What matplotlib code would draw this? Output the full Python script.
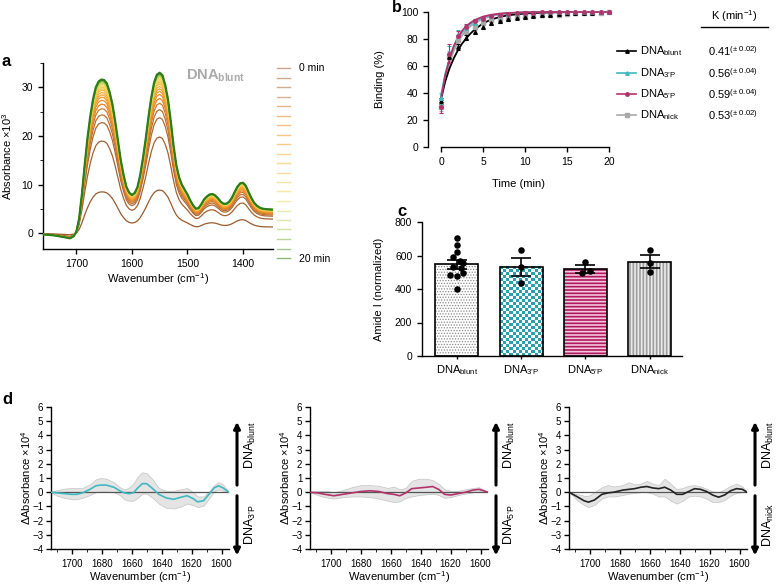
import numpy as np
import matplotlib
matplotlib.use('Agg')
import matplotlib.pyplot as plt
from matplotlib.colors import LinearSegmentedColormap, to_rgb
from matplotlib.lines import Line2D
from matplotlib.ticker import MultipleLocator

plt.rcParams['font.family'] = ['Liberation Sans', 'DejaVu Sans']
plt.rcParams['mathtext.fontset'] = 'custom'
plt.rcParams['mathtext.rm'] = 'Liberation Sans'
plt.rcParams['mathtext.it'] = 'Liberation Sans:italic'
plt.rcParams['mathtext.bf'] = 'Liberation Sans:bold'
plt.rcParams['mathtext.default'] = 'regular'
plt.rcParams['font.size'] = 7.5
plt.rcParams['axes.linewidth'] = 1.0
plt.rcParams['xtick.major.width'] = 1.0
plt.rcParams['ytick.major.width'] = 1.0
plt.rcParams['xtick.major.size'] = 3.5
plt.rcParams['ytick.major.size'] = 3.5
plt.rcParams['xtick.minor.size'] = 2
plt.rcParams['ytick.minor.size'] = 2
plt.rcParams['xtick.labelsize'] = 7.5
plt.rcParams['ytick.labelsize'] = 7.5

# ---------------- data ----------------
# panel a: spectrum at 20 min (top curve) and relative amplitude of each time point
wn_a = [1760, 1750, 1740, 1730, 1720, 1712, 1705, 1700, 1695, 1690, 1685, 1680, 1675,
        1670, 1665, 1660, 1655, 1650, 1645, 1640, 1635, 1630, 1625, 1620, 1615, 1610,
        1605, 1600, 1595, 1590, 1585, 1580, 1575, 1570, 1565, 1560, 1555, 1550, 1545,
        1540, 1535, 1530, 1525, 1520, 1515, 1510, 1505, 1500, 1495, 1490, 1485, 1480,
        1475, 1470, 1465, 1460, 1455, 1450, 1445, 1440, 1435, 1430, 1425, 1420, 1415,
        1410, 1405, 1400, 1395, 1390, 1385, 1380, 1375, 1370, 1365, 1360, 1346]
abs_top = [-0.2, -0.3, -0.4, -0.6, -0.8, -1.0, -0.6, 0.3, 3.0, 8.0, 14.0, 19.5, 24.0,
           27.5, 30.0, 31.2, 31.6, 31.5, 30.8, 29.0, 26.5, 23.0, 19.0, 15.0, 12.0, 9.6,
           8.4, 7.9, 8.3, 9.5, 12.0, 15.5, 19.5, 24.0, 28.0, 31.0, 32.6, 33.0, 32.5,
           30.5, 27.5, 23.0, 18.0, 14.0, 11.5, 10.0, 9.0, 8.0, 6.8, 5.8, 5.1, 5.2,
           6.0, 7.0, 7.6, 8.0, 8.1, 7.8, 7.2, 6.5, 6.1, 6.1, 6.5, 7.3, 8.5,
           9.6, 10.3, 10.4, 9.8, 8.5, 7.3, 6.3, 5.7, 5.3, 5.1, 5.0, 4.9]
times_a = list(range(21))
scale_a = [0.27, 0.60, 0.72, 0.77, 0.81, 0.84, 0.865, 0.885, 0.90, 0.915, 0.93,
           0.94, 0.95, 0.96, 0.97, 0.975, 0.98, 0.985, 0.99, 0.995, 1.0]

# panel b: binding kinetics
t_b = list(range(21))
bind_blunt = [34, 67, 74, 81, 85.5, 89, 91.5, 93, 94.5, 95.5, 96.5, 97, 97.5, 98, 98.5, 99, 99, 99.5, 99.5, 99.8, 100]
bind_3p = [36, 70, 83, 88, 92, 95, 97, 98, 98.5, 99, 99.5, 99.5, 99.8, 100, 100, 100, 100, 100, 100, 100, 100]
bind_5p = [30, 69, 82, 89, 93, 95, 97, 98, 98.5, 99, 99.5, 99.5, 99.8, 100, 100, 100, 100, 100, 100, 100, 100]
bind_nick = [30, 67, 79, 86, 89, 92, 94, 95, 95.5, 96, 96.5, 97, 97.5, 98, 98, 98.5, 99, 99, 99.5, 99.5, 100]
err_blunt = [2, 2, 2, 2, 2, 1.5, 1.5, 1, 1, 1, 1, 1, 1, 1, 1, 1, 1, 1, 1, 1, 1]
err_3p = [4, 5, 4, 2, 2, 1.5, 1, 1, 1, 1, 1, 1, 1, 1, 1, 1, 1, 1, 1, 1, 1]
err_5p = [5, 7, 4, 2, 2, 1.5, 1, 1, 1, 1, 1, 1, 1, 1, 1, 1, 1, 1, 1, 1, 1]
err_nick = [3, 4, 3, 2, 2, 1.5, 1, 1, 1, 1, 1, 1, 1, 1, 1, 1, 1, 1, 1, 1, 1]
t_fit = [0, 0.5, 1, 1.5, 2, 2.5, 3, 3.5, 4, 5, 6, 7, 8, 10, 12, 15, 20]
fit_blunt = [36, 48.5, 58, 65.5, 71.5, 76.5, 80.5, 84, 87, 91.6, 94.5, 96.3, 97.6, 98.9, 99.5, 99.9, 100]
fit_3p = [38, 54, 65, 74, 80, 85, 88.5, 91.2, 93.2, 96, 97.6, 98.5, 99.1, 99.7, 99.9, 100, 100]
fit_5p = [36, 53, 65, 74.5, 81, 86, 89.5, 92, 94, 96.6, 98, 98.8, 99.3, 99.8, 99.9, 100, 100]
fit_nick = [34, 50, 62, 71, 77.5, 82.5, 86.5, 89.5, 91.8, 95, 97, 98.2, 98.9, 99.6, 99.9, 100, 100]
k_vals = ['0.41', '0.56', '0.59', '0.53']
k_errs = ['0.02', '0.04', '0.04', '0.02']

# panel c: amide I
c_names = ['DNA$_{blunt}$', 'DNA$_{3\u2019P}$', 'DNA$_{5\u2019P}$', 'DNA$_{nick}$']
c_means = [548, 532, 520, 562]
c_sem = [27, 56, 23, 39]
c_pts_blunt = [704, 662, 620, 590, 570, 558, 530, 524, 484, 480, 494, 400]
c_pts_3p = [630, 534, 438]
c_pts_5p = [564, 494, 508]
c_pts_nick = [634, 558, 504]

# panel d: difference spectra (mean, band upper, band lower)
d1_wn = [1714, 1710, 1705, 1700, 1697, 1693, 1688, 1684, 1681, 1677, 1672, 1668, 1665, 1662,
         1659, 1656, 1653, 1650, 1646, 1642, 1637, 1632, 1627, 1623, 1619, 1616, 1612,
         1608, 1605, 1602, 1599, 1595]
d1_mean = [0, -0.05, -0.1, -0.15, -0.15, -0.05, 0.2, 0.45, 0.5, 0.5, 0.35, 0.1, -0.05, -0.1,
           -0.05, 0.3, 0.6, 0.6, 0.25, -0.15, -0.4, -0.5, -0.35, -0.25, -0.45, -0.68, -0.6,
           -0.1, 0.3, 0.45, 0.3, 0]
d1_up = [0, 0.15, 0.25, 0.3, 0.3, 0.3, 0.55, 0.9, 1.0, 0.95, 0.7, 0.35, 0.2, 0.3,
         0.6, 1.1, 1.4, 1.35, 0.9, 0.3, 0.1, 0.1, 0.2, 0.3, 0.0, -0.3, -0.3,
         0.1, 0.5, 0.7, 0.55, 0]
d1_lo = [0, -0.25, -0.4, -0.5, -0.5, -0.4, -0.2, 0.0, 0.05, 0.05, 0.0, -0.2, -0.5, -0.6,
         -0.6, -0.4, -0.1, -0.1, -0.4, -0.8, -1.1, -1.15, -1.0, -0.8, -0.9, -1.05, -0.95,
         -0.4, 0.05, 0.2, 0.1, 0]
d2_wn = [1714, 1709, 1704, 1698, 1692, 1686, 1680, 1674, 1668, 1662, 1658, 1654, 1650,
         1646, 1641, 1636, 1632, 1628, 1624, 1620, 1615, 1610, 1605, 1601, 1598, 1595]
d2_mean = [0, -0.05, -0.15, -0.25, -0.15, -0.05, 0.05, 0.1, 0.05, -0.1, -0.15, -0.25, -0.05,
           0.25, 0.3, 0.35, 0.4, 0.2, -0.15, -0.2, -0.1, 0.0, 0.15, 0.2, 0.1, 0]
d2_up = [0, 0.1, 0.1, 0.0, 0.15, 0.35, 0.5, 0.5, 0.45, 0.3, 0.4, 0.2, 0.3,
         0.8, 0.95, 0.95, 0.85, 0.6, 0.2, 0.1, 0.1, 0.2, 0.3, 0.35, 0.2, 0]
d2_lo = [0, -0.2, -0.35, -0.45, -0.35, -0.3, -0.3, -0.35, -0.45, -0.6, -0.7, -0.65, -0.4,
         -0.3, -0.2, -0.15, -0.1, -0.2, -0.4, -0.35, -0.2, -0.1, 0.0, 0.05, 0.0, 0]
d3_wn = [1714, 1708, 1704, 1701, 1697, 1692, 1688, 1684, 1678, 1674, 1670, 1666, 1662,
         1658, 1654, 1650, 1646, 1642, 1638, 1634, 1630, 1626, 1622, 1618, 1614, 1610,
         1606, 1602, 1598, 1595]
d3_mean = [0, -0.35, -0.6, -0.7, -0.55, -0.15, -0.05, 0.0, 0.15, 0.2, 0.25, 0.35, 0.4,
           0.3, 0.25, 0.35, 0.15, -0.15, -0.15, 0.05, 0.25, 0.2, 0.05, -0.2, -0.35, -0.2,
           0.1, 0.25, 0.2, 0]
d3_up = [0, -0.15, -0.25, -0.25, 0.0, 0.35, 0.5, 0.4, 0.5, 0.7, 0.55, 0.6, 0.8,
         0.6, 0.5, 0.95, 0.6, 0.2, 0.3, 0.45, 0.5, 0.4, 0.25, 0.05, 0.0, 0.2,
         0.45, 0.6, 0.4, 0]
d3_lo = [0, -0.6, -0.9, -1.05, -0.9, -0.45, -0.3, -0.3, -0.2, -0.1, -0.05, 0.0, 0.0,
         -0.1, -0.3, -0.3, -0.6, -0.8, -0.6, -0.3, -0.25, -0.3, -0.45, -0.7, -0.7, -0.55,
         -0.25, -0.05, 0.0, 0]

# ---------------- figure ----------------
W, H = 778, 585
fig = plt.figure(figsize=(W / 100, H / 100), dpi=100)


def box(x0, y0, x1, y1):
    return [x0 / W, 1 - y1 / H, (x1 - x0) / W, (y1 - y0) / H]


def clean(ax):
    ax.spines['top'].set_visible(False)
    ax.spines['right'].set_visible(False)


teal = '#3fb8c2'
crim = '#b2336c'
grey = '#a8a8a8'

# ----- panel a -----
axa = fig.add_axes(box(43, 63, 273, 249))
clean(axa)
cmap = LinearSegmentedColormap.from_list('t', ['#9a5b2e', '#b86f35', '#ef8a25', '#f5a835',
                                               '#f6c84a', '#e8dc60', '#a9cb58', '#2f7d18'])
top = np.array(abs_top)
for i, t in enumerate(times_a):
    col = cmap(t / 20)
    lw = 1.6 if t == 20 else 0.9
    axa.plot(wn_a, top * scale_a[i], color=col, lw=lw, zorder=2 + i)
axa.set_xlim(1760, 1346)
axa.set_ylim(-3.2, 35)
axa.set_xticks([1700, 1600, 1500, 1400])
axa.set_yticks([0, 10, 20, 30])
axa.yaxis.set_minor_locator(MultipleLocator(5))
axa.set_xlabel('Wavenumber (cm$^{-1}$)', fontsize=8)
axa.set_ylabel('Absorbance \u00d710$^{3}$', fontsize=8)
axa.xaxis.set_label_coords(0.5, -0.12)
axa.yaxis.set_label_coords(-0.125, 0.5)
axa.text(0.62, 0.93, 'DNA$_{blunt}$', transform=axa.transAxes, fontsize=10.5,
         fontweight='bold', color='#aaaaaa', ha='left', va='center')
fig.text(2 / W, 1 - 62 / H, 'a', fontsize=12, fontweight='bold', va='center')
# legend of time points
ys = np.linspace(68, 258, 21)
for i, t in enumerate(times_a):
    c = np.array(to_rgb(cmap(t / 20)))
    c = c * 0.55 + 0.45
    fig.add_artist(Line2D([277 / W, 290 / W], [1 - ys[i] / H] * 2, color=c, lw=1.0))
fig.text(299 / W, 1 - 68 / H, '0 min', fontsize=7.5, va='center')
fig.text(299 / W, 1 - 259 / H, '20 min', fontsize=7.5, va='center')

# ----- panel b -----
axb = fig.add_axes(box(428, 12, 609, 147))
clean(axb)
series_b = [(bind_nick, err_nick, fit_nick, grey, 's'),
            (bind_blunt, err_blunt, fit_blunt, 'black', '^'),
            (bind_3p, err_3p, fit_3p, teal, '^'),
            (bind_5p, err_5p, fit_5p, crim, 'o')]
for vals, err, fit, col, mk in series_b:
    axb.errorbar(t_b, vals, yerr=err, fmt=mk, ms=2.5, color=col, ecolor=col,
                 elinewidth=0.8, capsize=1.5, capthick=0.8, clip_on=False)
    axb.plot(t_fit, fit, color=col, lw=1.3, clip_on=False)
axb.set_xlim(-1.55, 20)
axb.set_ylim(0, 100)
axb.spines['bottom'].set_bounds(0, 20)
axb.set_xticks([0, 5, 10, 15, 20])
axb.set_yticks([0, 20, 40, 60, 80, 100])
axb.set_xlabel('Time (min)', fontsize=8)
axb.set_ylabel('Binding (%)', fontsize=8)
axb.xaxis.set_label_coords(0.5, -0.235)
axb.yaxis.set_label_coords(-0.24, 0.5)
fig.text(392 / W, 1 - 8 / H, 'b', fontsize=11.5, fontweight='bold', va='center')
leg_names = ['DNA$_{blunt}$', 'DNA$_{3\u2019P}$', 'DNA$_{5\u2019P}$', 'DNA$_{nick}$']
leg_cols = ['black', teal, crim, grey]
leg_mk = ['^', '^', 'o', 's']
leg_y = [51, 73, 94, 115]
for name, col, mk, y, kv, ke in zip(leg_names, leg_cols, leg_mk, leg_y, k_vals, k_errs):
    fig.add_artist(Line2D([617 / W, 636 / W], [1 - y / H] * 2, color=col, lw=1.2))
    fig.add_artist(Line2D([626.5 / W], [1 - y / H], color=col, marker=mk, ms=2.5, lw=0))
    fig.text(640 / W, 1 - y / H, name, fontsize=8, va='center')
    fig.text(708 / W, 1 - y / H, kv + '$^{(\\pm\\ ' + ke + ')}$', fontsize=8, va='center')
fig.text(734 / W, 1 - 16 / H, 'K (min$^{-1}$)', fontsize=8, va='center', ha='center')
fig.add_artist(Line2D([701 / W, 768 / W], [1 - 27 / H] * 2, color='black', lw=1.0))

# ----- panel c -----
axc = fig.add_axes(box(422, 222, 682, 356))
clean(axc)
xc = np.arange(4)
bw = 0.67
bars = axc.bar(xc, c_means, width=bw, color='none', edgecolor='none', zorder=1)
# blunt: dotted
plt.rcParams['hatch.linewidth'] = 0.6
axc.bar(xc[0], c_means[0], width=bw, color='white', edgecolor='#8a8a8a', hatch='......', lw=0, zorder=1)
# 3'P: checkerboard
b = bars[1]
chk = (np.add.outer(np.arange(30), np.arange(14)) % 2).astype(float)
axc.imshow(chk, extent=(b.get_x(), b.get_x() + b.get_width(), 0, b.get_height()),
           cmap=LinearSegmentedColormap.from_list('ck', ['white', '#2a9fae']),
           aspect='auto', interpolation='nearest', zorder=1, origin='lower')
# 5'P: horizontal stripes
plt.rcParams['hatch.linewidth'] = 1.2
axc.bar(xc[2], c_means[2], width=bw, color='#b0175f', edgecolor='#f2c8dc', hatch='-----', lw=0, zorder=1)
# nick: vertical stripes
axc.bar(xc[3], c_means[3], width=bw, color='#9d9d9d', edgecolor='#ececec', hatch='|||||', lw=0, zorder=1)
axc.bar(xc, c_means, width=bw, fill=False, edgecolor='black', lw=1.2, zorder=2)
axc.errorbar(xc, c_means, yerr=c_sem, fmt='none', ecolor='black', elinewidth=1.2,
             capsize=7, capthick=1.2, zorder=4)
pts = [c_pts_blunt, c_pts_3p, c_pts_5p, c_pts_nick]
offs = [[0, 0, 0, -0.06, 0.05, 0.1, -0.06, 0.07, -0.11, 0.0, 0.1, 0.0],
        [0, 0, 0], [0, -0.05, 0.07], [0, 0, 0]]
for i, (p, o) in enumerate(zip(pts, offs)):
    axc.scatter(np.array(o) + i, p, s=22, color='black', zorder=5, linewidths=0)
axc.set_xlim(-0.54, 3.5)
axc.set_ylim(0, 800)
axc.set_xticks(xc)
axc.set_xticklabels(c_names, fontsize=8)
axc.tick_params(axis='x', length=2)
axc.set_yticks([0, 200, 400, 600, 800])
axc.set_ylabel('Amide I (normalized)', fontsize=8)
axc.yaxis.set_label_coords(-0.146, 0.5)
fig.text(397 / W, 1 - 212 / H, 'c', fontsize=12, fontweight='bold', va='center')

# ----- panel d -----
d_sets = [(d1_wn, d1_mean, d1_up, d1_lo, teal, 'DNA$_{3\u2019P}$', 51),
          (d2_wn, d2_mean, d2_up, d2_lo, crim, 'DNA$_{5\u2019P}$', 310),
          (d3_wn, d3_mean, d3_up, d3_lo, '#222222', 'DNA$_{nick}$', 569)]
for wn, mean, up, lo, col, lab, x0 in d_sets:
    ax = fig.add_axes(box(x0, 407, x0 + 178, 549))
    clean(ax)
    ax.fill_between(wn, lo, up, color='#e4e4e4', edgecolor='#c4c4c4', lw=0.5, zorder=1)
    ax.axhline(0, color='#555555', lw=0.9, zorder=2)
    ax.plot(wn, mean, color=col, lw=1.2, zorder=3)
    ax.set_xlim(1714, 1595)
    ax.set_ylim(-4, 6)
    ax.set_xticks([1700, 1680, 1660, 1640, 1620, 1600])
    ax.xaxis.set_minor_locator(MultipleLocator(10))
    ax.set_yticks(range(-4, 7))
    ax.set_yticklabels([('\u2212' + str(-v)) if v < 0 else str(v) for v in range(-4, 7)])
    ax.tick_params(labelsize=7)
    ax.tick_params(axis='y', pad=2)
    ax.set_xlabel('Wavenumber (cm$^{-1}$)', fontsize=8)
    ax.set_ylabel('\u0394Absorbance \u00d710$^{4}$', fontsize=8)
    ax.xaxis.set_label_coords(0.5, -0.14)
    ax.yaxis.set_label_coords(-0.1, 0.5)
    ax.annotate('', xy=(1.045, 0.895), xytext=(1.045, 0.45), xycoords='axes fraction',
                arrowprops=dict(arrowstyle='-|>', lw=2.2, color='black', mutation_scale=9,
                                shrinkA=0, shrinkB=0))
    ax.annotate('', xy=(1.045, -0.045), xytext=(1.045, 0.375), xycoords='axes fraction',
                arrowprops=dict(arrowstyle='-|>', lw=2.2, color='black', mutation_scale=9,
                                shrinkA=0, shrinkB=0))
    ax.text(1.12, 0.73, 'DNA$_{blunt}$', transform=ax.transAxes, rotation=90,
            fontsize=9, ha='center', va='center')
    ax.text(1.12, 0.17, lab, transform=ax.transAxes, rotation=90,
            fontsize=9, ha='center', va='center')
fig.text(2 / W, 1 - 400 / H, 'd', fontsize=12, fontweight='bold', va='center')

fig.savefig('out.png', dpi=100)
